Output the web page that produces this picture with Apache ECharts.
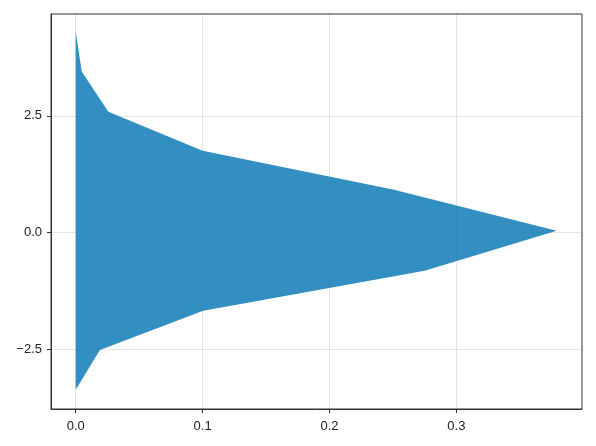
<!DOCTYPE html>
<html>
<head>
<meta charset="utf-8">
<script src="https://cdn.jsdelivr.net/npm/echarts@6/dist/echarts.min.js"></script>
<style>
  html, body { margin: 0; padding: 0; background: #fff; }
  #chart { width: 596px; height: 446px; }
</style>
</head>
<body>
<div id="chart"></div>
<script>
  // upper edge of the band, left to right
  var upperX = [0.0, 0.0047, 0.0257, 0.100, 0.250, 0.379];
  var upperY = [4.31, 3.45, 2.59, 1.75, 0.92, 0.035];
  // lower edge of the band, left to right
  var lowerX = [0.0, 0.019, 0.1005, 0.275, 0.379];
  var lowerY = [-3.37, -2.52, -1.68, -0.82, 0.035];

  var xTicks = [0.0, 0.1, 0.2, 0.3];
  var yTicks = [-2.5, 0.0, 2.5];

  // polygon outline: upper edge forward, lower edge backward
  var outline = [];
  for (var i = 0; i < upperX.length; i++) outline.push([upperX[i], upperY[i]]);
  for (var j = lowerX.length - 1; j >= 0; j--) outline.push([lowerX[j], lowerY[j]]);

  var chart = echarts.init(document.getElementById('chart'));
  var labelFont = { fontFamily: 'Liberation Sans, Arial, sans-serif', fontSize: 13, color: '#222' };
  chart.setOption({
    animation: false,
    grid: {
      left: 51, right: 14, top: 14, bottom: 37,
      show: true, borderColor: '#333', borderWidth: 1, backgroundColor: 'transparent'
    },
    xAxis: {
      type: 'value',
      min: -0.0195, max: 0.399,
      axisLine: { show: true, onZero: false, lineStyle: { color: '#333' } },
      axisTick: { show: true, length: 4, inside: false, customValues: xTicks, lineStyle: { color: '#333' } },
      axisLabel: Object.assign({ customValues: xTicks, margin: 11,
        formatter: function (v) { return v.toFixed(1); } }, labelFont),
      splitLine: { show: true, lineStyle: { color: 'rgba(0,0,0,0.1)' } }
    },
    yAxis: {
      type: 'value',
      min: -3.785, max: 4.685,
      axisLine: { show: true, onZero: false, lineStyle: { color: '#333' } },
      axisTick: { show: true, length: 4, inside: false, customValues: yTicks, lineStyle: { color: '#333' } },
      axisLabel: Object.assign({ customValues: yTicks, margin: 9,
        formatter: function (v) { return v.toFixed(1).replace('-', '\u2212'); } }, labelFont),
      splitLine: { show: true, lineStyle: { color: 'rgba(0,0,0,0.1)' } }
    },
    series: [{
      type: 'custom',
      coordinateSystem: 'cartesian2d',
      data: outline,
      encode: { x: 0, y: 1 },
      renderItem: function (params, api) {
        if (params.dataIndex !== 0) return null;
        var pts = outline.map(function (p) { return api.coord(p); });
        return {
          type: 'polygon',
          shape: { points: pts },
          style: { fill: 'rgba(0,114,178,0.8)', stroke: null }
        };
      }
    }]
  });
</script>
</body>
</html>
